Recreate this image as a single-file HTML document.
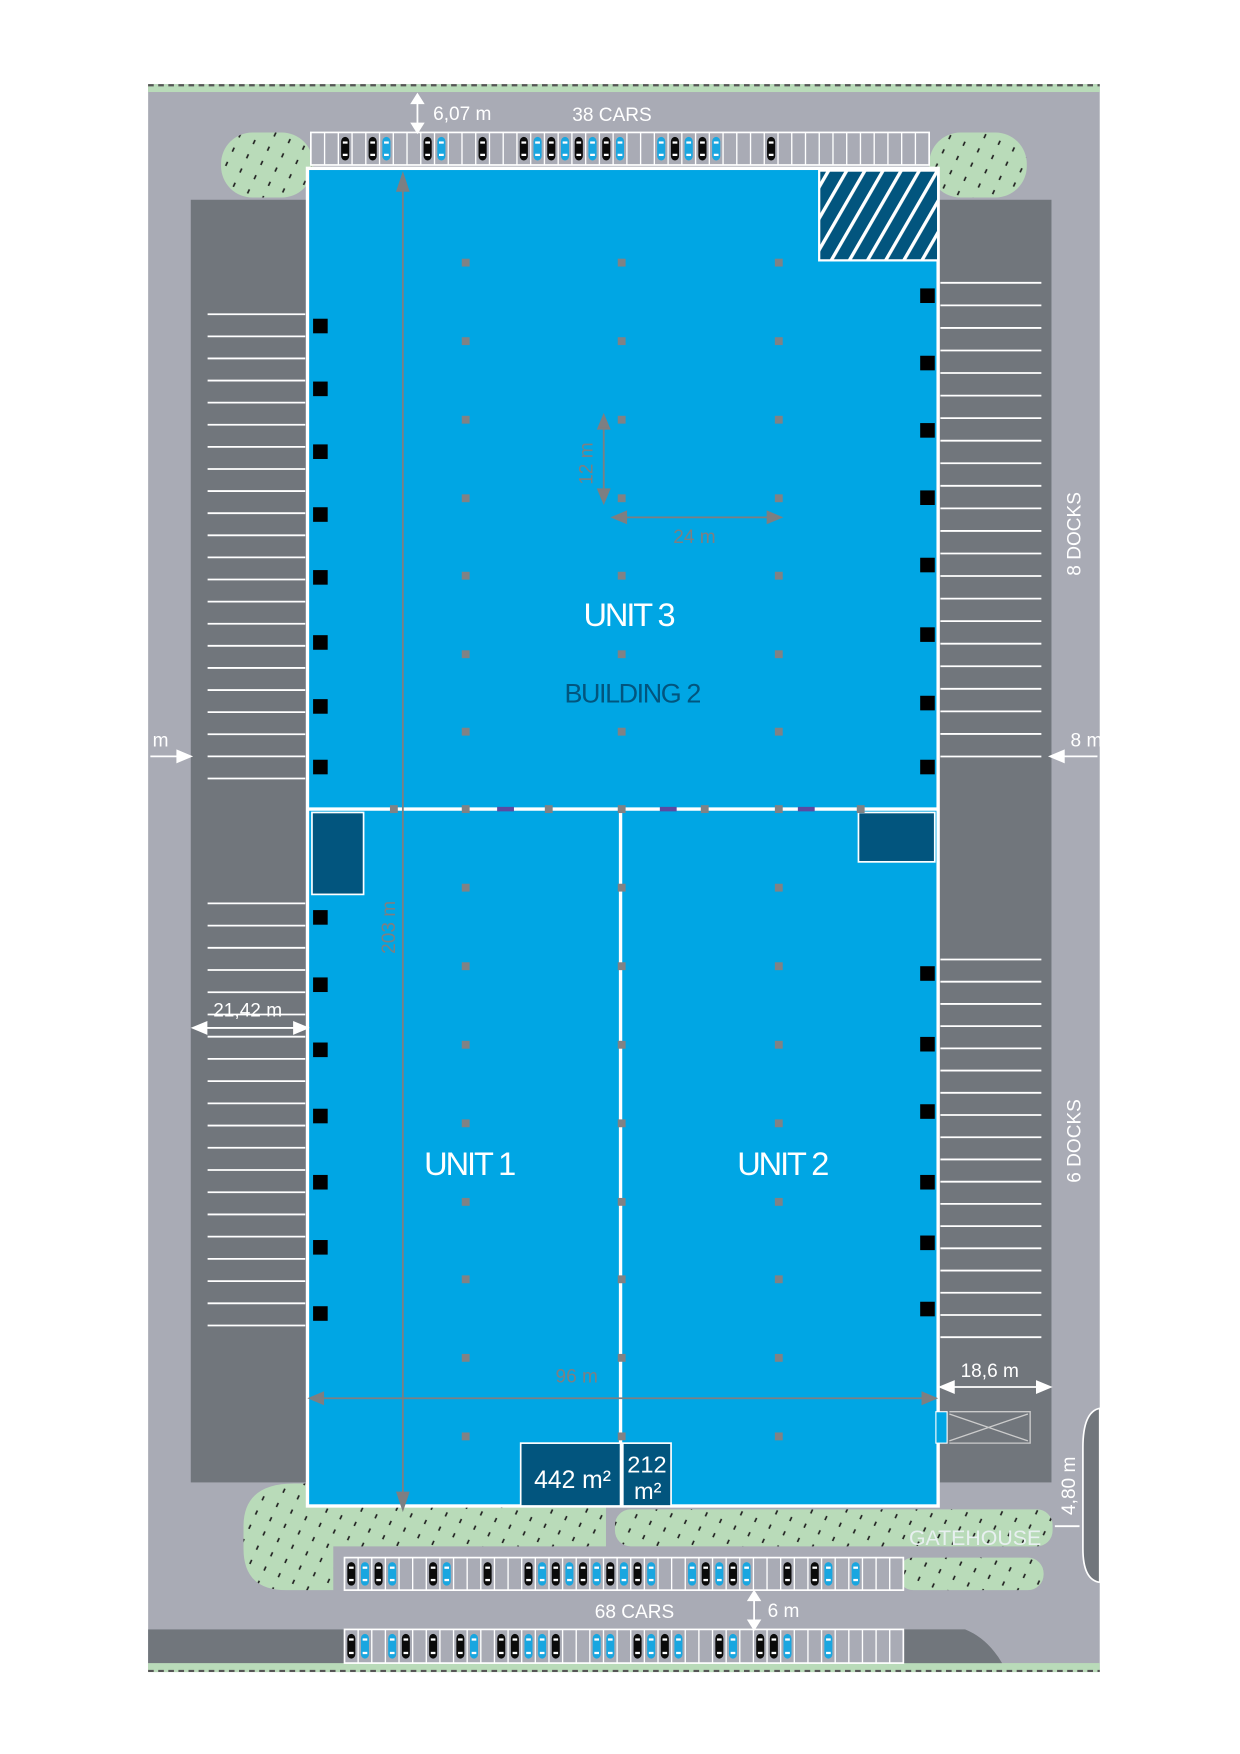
<!DOCTYPE html>
<html><head><meta charset="utf-8"><style>
html,body{margin:0;padding:0;background:#fff;}
svg{display:block}
text{font-family:"Liberation Sans",sans-serif;}
</style></head><body>
<svg id="s" width="1240" height="1754" viewBox="0 0 1105 1563" xmlns="http://www.w3.org/2000/svg">
<defs>
<pattern id="dots" width="14" height="14" patternUnits="userSpaceOnUse" patternTransform="rotate(25)">
<rect width="14" height="14" fill="#b9dbb9"/><rect x="6" y="3" width="1.5" height="4" fill="#222"/>
</pattern>
<pattern id="hatch" width="14" height="14" patternUnits="userSpaceOnUse" patternTransform="rotate(30)">
<rect width="14" height="14" fill="#02557e"/><rect width="3" height="14" fill="#fff"/>
</pattern>
</defs>
<rect x="132" y="75" width="848" height="1415" fill="#a9abb5"/>
<rect x="132" y="75" width="848" height="7" fill="#b9dbb9"/>
<line x1="132" y1="76" x2="980" y2="76" stroke="#555" stroke-width="2" stroke-dasharray="5,4"/>
<rect x="132" y="1482" width="848" height="8" fill="#b9dbb9"/>
<line x1="132" y1="1489" x2="980" y2="1489" stroke="#555" stroke-width="2" stroke-dasharray="5,4"/>
<!-- gray strips -->
<rect x="170" y="178" width="104" height="1143" fill="#71767c"/>
<rect x="836" y="178" width="101" height="1143" fill="#71767c"/>
<!-- green blobs -->
<rect x="197" y="118" width="82" height="58" rx="28" fill="url(#dots)"/>
<rect x="828" y="118" width="87" height="58" rx="28" fill="url(#dots)"/>
<path d="M217 1360 Q217 1322 262 1322 L540 1322 L540 1378 L297 1378 L297 1417 L255 1417 Q217 1417 217 1380Z" fill="url(#dots)"/>
<rect x="548" y="1345" width="390" height="33" rx="14" fill="url(#dots)"/>
<rect x="800" y="1388" width="130" height="29" rx="14" fill="url(#dots)"/>
<!-- right road curve -->
<path d="M980 1255 Q965 1258 965 1290 L965 1380 Q965 1408 980 1410Z" fill="#71767c" stroke="#fff" stroke-width="1.5"/>
<!-- bottom dark gray -->
<rect x="132" y="1452" width="175" height="30" fill="#71767c"/>
<path d="M805 1452 L860 1452 Q880 1460 893 1482 L805 1482Z" fill="#71767c"/>
<g id="stripes" stroke="#fff" stroke-width="1.6"></g>
<!-- parking rows -->
<rect x="277" y="118" width="551" height="29" fill="#a9abb5" stroke="#fff" stroke-width="1.5"/>
<rect x="307" y="1388" width="498" height="29" fill="#a9abb5" stroke="#fff" stroke-width="1.5"/>
<rect x="307" y="1452" width="498" height="30" fill="#a9abb5" stroke="#fff" stroke-width="1.5"/>
<g id="cars"></g>
<!-- building -->
<rect x="274" y="150" width="562" height="1192" fill="#00a6e4" stroke="#fff" stroke-width="3"/>
<rect x="730" y="152" width="106" height="80" fill="url(#hatch)" stroke="#fff" stroke-width="2"/>
<line x1="274" y1="721" x2="836" y2="721" stroke="#fff" stroke-width="3"/>
<line x1="553" y1="721" x2="553" y2="1342" stroke="#fff" stroke-width="3"/>
<rect x="278" y="724" width="46" height="73" fill="#02557e" stroke="#fff" stroke-width="1.5"/>
<rect x="765" y="724" width="68" height="44" fill="#02557e" stroke="#fff" stroke-width="1.5"/>
<rect x="464" y="1286" width="89" height="56" fill="#02557e" stroke="#fff" stroke-width="1.5"/>
<rect x="555" y="1286" width="43" height="56" fill="#02557e" stroke="#fff" stroke-width="1.5"/>
<rect x="834" y="1258" width="10" height="28" fill="#00a6e4" stroke="#fff"/>
<path d="M846 1258 L918 1258 L918 1286 L846 1286 M846 1260 L916 1284 M916 1260 L846 1284" fill="none" stroke="#ccc" stroke-width="1.2"/>
<g id="cols" fill="#808285"></g>
<g fill="#5b4aa0"><rect x="443" y="719" width="15" height="4"/><rect x="588" y="719" width="15" height="4"/><rect x="711" y="719" width="15" height="4"/></g>
<g id="docks" fill="#000"></g>
<!-- dimension lines -->
<g stroke="#7d7f82" stroke-width="1.6" fill="#7d7f82">
<line x1="359" y1="160" x2="359" y2="1338"/>
<path d="M354 170 L359 155 L364 170Z M354 1330 L359 1345 L364 1330Z"/>
<line x1="278" y1="1246" x2="832" y2="1246"/>
<path d="M288 1241 L276 1246 L288 1251Z M822 1241 L834 1246 L822 1251Z"/>
<line x1="538" y1="374" x2="538" y2="444"/>
<path d="M533 382 L538 370 L543 382Z M533 436 L538 448 L543 436Z"/>
<line x1="550" y1="461" x2="692" y2="461"/>
<path d="M558 456 L546 461 L558 466Z M684 456 L696 461 L684 466Z"/>
</g>
<g fill="#7d7f82" font-size="17">
<text x="0" y="0" transform="translate(352 850) rotate(-90)">203 m</text>
<text x="495" y="1232">96 m</text>
<text x="0" y="0" transform="translate(528 432) rotate(-90)">12 m</text>
<text x="600" y="484">24 m</text>
</g>
<g fill="#fff" font-size="17">
<text x="386" y="107">6,07 m</text><text x="510" y="108">38 CARS</text>
<text x="530" y="1442">68 CARS</text><text x="684" y="1441">6 m</text>
<text x="190" y="906">21,42 m</text><text x="856" y="1227">18,6 m</text>
<text x="136" y="665">m</text><text x="954" y="665">8 m</text>
<text x="810" y="1377" font-size="19" fill="#e8f0f0">GATEHOUSE</text>
<text x="0" y="0" transform="translate(963 513) rotate(-90)">8 DOCKS</text>
<text x="0" y="0" transform="translate(963 1054) rotate(-90)">6 DOCKS</text>
<text x="0" y="0" transform="translate(958 1350) rotate(-90)">4,80 m</text>
</g>
<g stroke="#fff" stroke-width="1.6" fill="#fff">
<line x1="372" y1="88" x2="372" y2="114"/><path d="M367 92 L372 84 L377 92Z M367 110 L372 118 L377 110Z"/>
<line x1="672" y1="1422" x2="672" y2="1448"/><path d="M667 1426 L672 1418 L677 1426Z M667 1444 L672 1452 L677 1444Z"/>
<line x1="176" y1="916" x2="270" y2="916"/><path d="M184 911 L172 916 L184 921Z M262 911 L274 916 L262 921Z"/>
<line x1="842" y1="1236" x2="932" y2="1236"/><path d="M850 1231 L838 1236 L850 1241Z M924 1231 L936 1236 L924 1241Z"/>
<line x1="134" y1="674" x2="166" y2="674"/><path d="M158 669 L170 674 L158 679Z"/>
<line x1="944" y1="674" x2="978" y2="674"/><path d="M948 669 L936 674 L948 679Z"/>
<line x1="940" y1="1360" x2="962" y2="1360"/>
</g>
<text x="520" y="558" fill="#fff" font-size="29" textLength="82">UNIT 3</text>
<text x="503" y="626" fill="#02557e" font-size="24" textLength="122">BUILDING 2</text>
<text x="378" y="1047" fill="#fff" font-size="29" textLength="82">UNIT 1</text>
<text x="657" y="1047" fill="#fff" font-size="29" textLength="82">UNIT 2</text>
<text x="476" y="1326" fill="#fff" font-size="22">442 m²</text>
<text x="559" y="1312" fill="#fff" font-size="21">212</text>
<text x="565" y="1336" fill="#fff" font-size="21">m²</text>
</svg>
<script>
var NS="http://www.w3.org/2000/svg";
function el(p,t,a){var e=document.createElementNS(NS,t);for(var k in a)e.setAttribute(k,a[k]);document.getElementById(p).appendChild(e);return e;}
// stripes
function stripes(x1,x2,y0,y1,step){for(var y=y0;y<=y1;y+=step)el("stripes","line",{x1:x1,x2:x2,y1:y,y2:y});}
stripes(185,272,280,694,19.7);stripes(185,272,805,1183,19.8);
stripes(838,928,252,694,20.1);stripes(838,928,855,1198,19.8);
// parking slots & cars
function row(x0,x1,y,h,pat){var n=Math.round((x1-x0)/12.2),w=(x1-x0)/n;
for(var i=0;i<n;i++){var x=x0+i*w;if(i>0)el("cars","line",{x1:x,x2:x,y1:y,y2:y+h,stroke:"#fff","stroke-width":1.2});
var c=pat[i];if(c&&c!=" "){el("cars","rect",{x:x+2.5,y:y+4,width:w-5,height:h-8,rx:4,fill:c=="b"?"#0a0a0a":"#19a6e0"});
el("cars","rect",{x:x+4,y:y+8,width:w-8,height:2,fill:"#fff"});el("cars","rect",{x:x+4,y:y+h-10,width:w-8,height:2,fill:"#fff"});}}}
row(277,828,118,29,"  b bc  bc  b  bcbcbcbc  cbcbc   b          ");
row(307,805,1388,29,"bcbc  bc  b  bcbcbcbcbc  cbcbc  b bc c");
row(307,805,1452,30,"bc cb b bc bbccb  cc bcbc  bc bbc  c");
// columns
var xs=[415,554,694],ys=[234,304,374,444,513,583,652,721,791,861,931,1001,1071,1140,1210,1280];
ys.forEach(function(y){xs.forEach(function(x){el("cols","rect",{x:x-3.5,y:y-3.5,width:7,height:7});});});
[351,489,628,767].forEach(function(x){el("cols","rect",{x:x-3.5,y:717.5,width:7,height:7});});
// docks
[291,347,403,459,515,573,630,684,818,878,936,995,1054,1112,1171].forEach(function(y){el("docks","rect",{x:279,y:y-7,width:13,height:13});});
[264,324,384,444,504,566,627,684,868,931,991,1054,1108,1167].forEach(function(y){el("docks","rect",{x:820,y:y-7,width:13,height:13});});
</script>
</body></html>
